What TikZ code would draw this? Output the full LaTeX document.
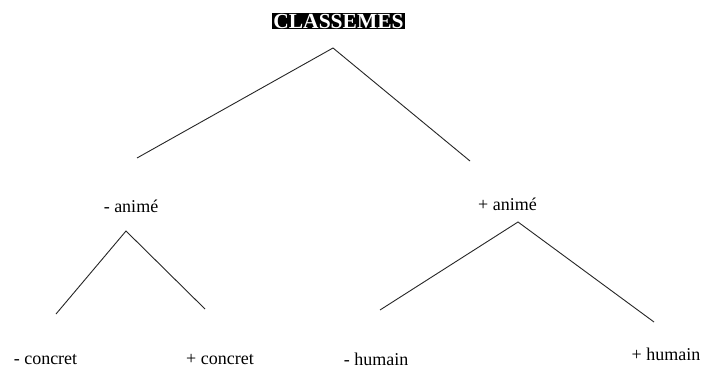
\documentclass[tikz,border=0pt]{standalone}
\usepackage{fontspec}
\setmainfont{Liberation Serif}
\begin{document}
\begin{tikzpicture}[x=1pt,y=-1pt,
  lbl/.style={font=\fontsize{18}{20}\selectfont, inner sep=0pt, anchor=base},
  branch/.style={line width=0.9pt, black!85},
  titlebox/.style={fill=black, text=white, font=\bfseries\fontsize{21.5}{24}\selectfont, inner xsep=1.5pt, inner ysep=1pt}]
\useasboundingbox (0,0) rectangle (701,369);
\fill[white] (0,0) rectangle (701,369);
% title
\node[titlebox] (title) at (338.5,21) {CLASSEMES};
% labels
\node[lbl] (anmoins) at (131,212) {- animé};
\node[lbl] (anplus) at (507.5,210) {+ animé};
\node[lbl] (comoins) at (45.5,364) {- concret};
\node[lbl] (coplus) at (220,364) {+ concret};
\node[lbl] (humoins) at (376,365) {- humain};
\node[lbl] (huplus) at (666,360) {+ humain};
% branch points
\coordinate (topapex) at (333,48);
\coordinate (topleft) at (137,158);
\coordinate (topright) at (470,161);
\coordinate (lapex) at (126,231);
\coordinate (lleft) at (56,314);
\coordinate (lright) at (205,309);
\coordinate (rapex) at (518,222);
\coordinate (rleft) at (380,310);
\coordinate (rright) at (654,322);
% branches
\draw[branch] (topleft) -- (topapex) -- (topright);
\draw[branch] (lleft) -- (lapex) -- (lright);
\draw[branch] (rleft) -- (rapex) -- (rright);
\end{tikzpicture}
\end{document}
